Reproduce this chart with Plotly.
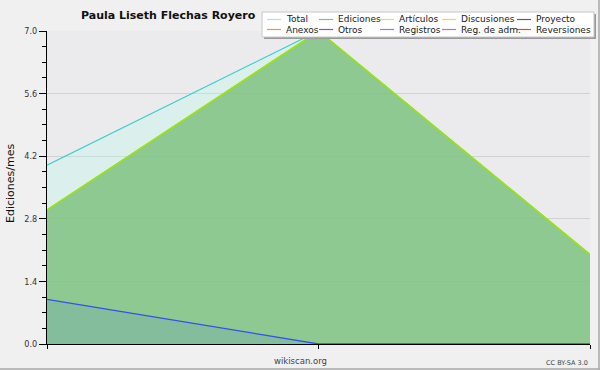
import plotly.graph_objects as go

# ---- data ----
meses = ["m1", "m2", "m3"]
total = [4.0, 7.0, 2.0]
ediciones = [3.0, 7.0, 2.0]
articulos = [3.0, 7.0, 2.0]
registros = [1.0, 0.0, 0.0]

y_ticks = [0.0, 1.4, 2.8, 4.2, 5.6, 7.0]

legend_names = ["Total", "Ediciones", "Artículos", "Discusiones", "Proyecto",
                "Anexos", "Otros", "Registros", "Reg. de adm.", "Reversiones"]
legend_colors = ["#a8e4e4", "#80c080", "#c4f060", "#f0d070", "#606060",
                 "#f09050", "#8a50e0", "#8088f0", "#d060e0", "#e04848"]

title = "Paula Liseth Flechas Royero"

# ---- geometry helpers (pixel -> paper) ----
W, H = 600, 370
L, R, T, B = 47, 10, 31, 26
PW, PH = W - L - R, H - T - B


def px(x):
    return (x - L) / PW


def py(y):
    return (H - B - y) / PH


fig = go.Figure()
fig.add_trace(go.Scatter(x=meses, y=total, mode="lines", name="Total",
                         line=dict(color="#3ccfcf", width=1.2),
                         fill="tozeroy", fillcolor="rgba(180,255,238,0.28)",
                         showlegend=False, hoverinfo="skip"))
fig.add_trace(go.Scatter(x=meses, y=ediciones, mode="lines", name="Ediciones",
                         line=dict(color="#80c080", width=1),
                         fill="tozeroy", fillcolor="rgba(128,194,128,0.86)",
                         showlegend=False, hoverinfo="skip"))
fig.add_trace(go.Scatter(x=meses, y=articulos, mode="lines", name="Artículos",
                         line=dict(color="#9be60a", width=1.6),
                         showlegend=False, hoverinfo="skip"))
fig.add_trace(go.Scatter(x=meses, y=registros, mode="lines", name="Registros",
                         line=dict(color="#3050f0", width=1.3),
                         fill="tozeroy", fillcolor="rgba(80,120,230,0.15)",
                         showlegend=False, hoverinfo="skip"))

shapes = []
annotations = []

# legend box with shadow
shapes.append(dict(type="rect", xref="paper", yref="paper",
                   x0=px(264), x1=px(596), y0=py(39), y1=py(14),
                   fillcolor="#9a9a9a", line=dict(width=0), layer="above"))
shapes.append(dict(type="rect", xref="paper", yref="paper",
                   x0=px(262), x1=px(594), y0=py(37), y1=py(12),
                   fillcolor="#ffffff", line=dict(color="#c8c8c8", width=1),
                   layer="above"))

col_x = [267, 319, 380, 442, 517]
row_y = [19.5, 29.5]
for i, (name, col) in enumerate(zip(legend_names, legend_colors)):
    r, c = divmod(i, 5)
    x0 = col_x[c]
    yy = row_y[r]
    shapes.append(dict(type="line", xref="paper", yref="paper",
                       x0=px(x0), x1=px(x0 + 14), y0=py(yy), y1=py(yy),
                       line=dict(color=col, width=1.2), layer="above"))
    annotations.append(dict(text=name, xref="paper", yref="paper",
                            x=px(x0 + 17), y=py(yy), xanchor="left",
                            yanchor="middle", showarrow=False,
                            font=dict(family="DejaVu Sans", size=9, color="#202020")))

# outer border (right and bottom)
shapes.append(dict(type="line", xref="paper", yref="paper",
                   x0=px(599), x1=px(599), y0=py(0), y1=py(369.5),
                   line=dict(color="#a8a8a8", width=1.5)))
shapes.append(dict(type="line", xref="paper", yref="paper",
                   x0=px(0), x1=px(600), y0=py(369), y1=py(369),
                   line=dict(color="#a8a8a8", width=1.5)))

# title
annotations.append(dict(text="<b>" + title + "</b>", xref="paper", yref="paper",
                        x=px(168), y=py(16), xanchor="center", yanchor="middle",
                        showarrow=False,
                        font=dict(family="DejaVu Sans", size=11, color="#111111")))
# y axis title
annotations.append(dict(text="Ediciones/mes", xref="paper", yref="paper",
                        x=px(10), y=py(184), xanchor="center", yanchor="middle",
                        textangle=-90, showarrow=False,
                        font=dict(family="DejaVu Sans", size=11, color="#111111")))
# footer texts
annotations.append(dict(text="wikiscan.org", xref="paper", yref="paper",
                        x=px(300), y=py(361), xanchor="center", yanchor="middle",
                        showarrow=False,
                        font=dict(family="DejaVu Sans", size=8.5, color="#444444")))
annotations.append(dict(text="CC BY-SA 3.0", xref="paper", yref="paper",
                        x=px(590), y=py(362.5), xanchor="right", yanchor="middle",
                        showarrow=False,
                        font=dict(family="DejaVu Sans", size=6.5, color="#444444")))

fig.update_layout(
    width=W, height=H,
    margin=dict(l=L, r=R, t=T, b=B, pad=0),
    paper_bgcolor="#f0f0f0",
    plot_bgcolor="#ebebee",
    showlegend=False,
    shapes=shapes,
    annotations=annotations,
    xaxis=dict(type="category", range=[0, len(meses) - 1],
               showticklabels=False, showgrid=False, zeroline=False,
               showline=True, linecolor="#000000", linewidth=1,
               ticks="outside", ticklen=4, tickcolor="#000000",
               fixedrange=True),
    yaxis=dict(range=[0, 7], tickvals=y_ticks,
               ticktext=[f"{v:.1f}" for v in y_ticks],
               showgrid=True, gridcolor="#d2d2d2", gridwidth=1,
               zeroline=False, showline=True, linecolor="#000000", linewidth=1,
               ticks="outside", ticklen=7, tickcolor="#000000",
               minor=dict(dtick=0.35, ticks="outside", ticklen=4,
                          tickcolor="#000000", showgrid=False),
               tickfont=dict(family="DejaVu Sans Condensed, DejaVu Sans",
                             size=9, color="#333333"),
               fixedrange=True),
)

fig.write_html("out.html",
               config={"displayModeBar": False, "staticPlot": True},
               post_script="document.body.style.margin='0';"
                           "document.body.style.background='#f0f0f0';")
